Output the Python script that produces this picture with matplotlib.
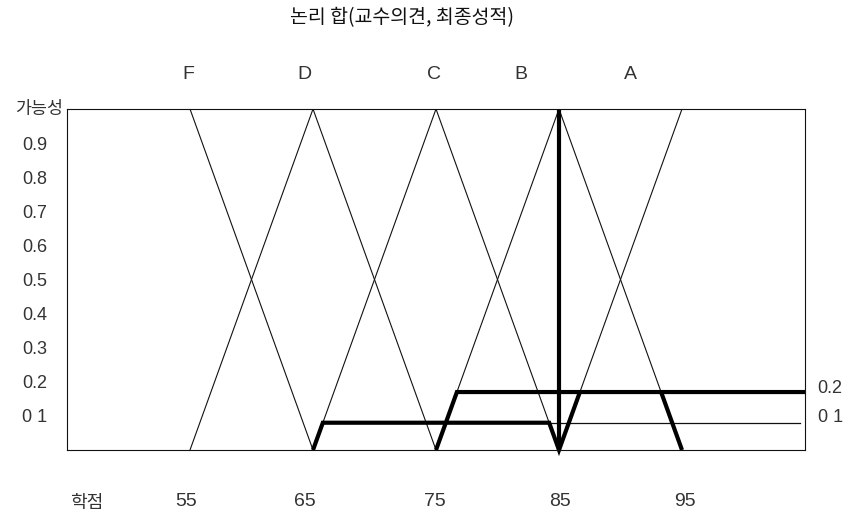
import numpy as np
import matplotlib.pyplot as plt

plt.rcParams['font.family'] = ['Liberation Sans', 'Noto Sans CJK KR', 'DejaVu Sans']

# ---------------------------------------------------------------------------
# Data
# ---------------------------------------------------------------------------

title = "논리 합(교수의견, 최종성적)"

# membership functions (score -> possibility)
grades = ["F", "D", "C", "B", "A"]
grade_x = [[45, 55, 65], [55, 65, 75], [65, 75, 85], [75, 85, 95], [85, 95, 105]]
grade_y = [[1, 1, 0], [0, 1, 0], [0, 1, 0], [0, 1, 0], [0, 1, 1]]
grade_label_x = [54.9, 64.3, 74.8, 81.9, 90.8]

# clipped levels
level_low = 0.08
level_high = 0.17
level_labels = ["0.2", "0 1"]
level_label_y = [0.18, 0.094]

# thick result curves
res1_x = [65.0, 65.8, 84.2, 85.0, 86.7]
res1_y = [0.0, level_low, level_low, 0.0, level_high]
res2_x = [75.0, 76.7, 105.0]
res2_y = [0.0, level_high, level_high]
res3_x = [93.3, 95.0]
res3_y = [level_high, 0.0]
peak_x = [85.0, 85.0]
peak_y = [0.0, 1.0]
thin_x = [84.2, 104.6]
thin_y = [level_low, level_low]

ytick_vals = [0.1, 0.2, 0.3, 0.4, 0.5, 0.6, 0.7, 0.8, 0.9]
ytick_labels = ["0 1", "0.2", "0.3", "0.4", "0.5", "0.6", "0.7", "0.8", "0.9"]
xtick_vals = [54.7, 64.3, 74.9, 85.1, 95.2]
xtick_labels = ["55", "65", "75", "85", "95"]


# ---------------------------------------------------------------------------
# Plot
# ---------------------------------------------------------------------------

fig = plt.figure(figsize=(8.55, 5.22), dpi=100)
ax = fig.add_axes([67 / 855, 72 / 522, 738 / 855, 341 / 522])

for gx, gy in zip(grade_x, grade_y):
    ax.plot(gx, gy, color="#111111", linewidth=0.8)

ax.plot(thin_x, thin_y, color="#111111", linewidth=0.9)
for rx, ry in [(res1_x, res1_y), (res2_x, res2_y), (res3_x, res3_y), (peak_x, peak_y)]:
    ax.plot(rx, ry, color="black", linewidth=3.0, solid_capstyle="butt",
            solid_joinstyle="miter", clip_on=False)

ax.set_xlim(45, 105)
ax.set_ylim(0, 1)

for sp in ax.spines.values():
    sp.set_linewidth(0.8)
    sp.set_color("#111111")

ax.set_yticks(ytick_vals, ytick_labels, fontsize=13, color="#333333")
ax.set_xticks(xtick_vals, xtick_labels, fontsize=14, color="#333333")
ax.tick_params(axis="y", length=0, pad=14.4)
ax.tick_params(axis="x", length=0, pad=31)

# axis captions
ax.text(-0.005, 1.0, "가능성", transform=ax.transAxes, ha="right", va="center",
        fontsize=12.5, family=["Noto Sans CJK KR"], color="#333333")
fig.text(87 / 855, 1 - 503 / 522, "학점", ha="center", va="center",
         fontsize=13, family=["Noto Sans CJK KR"], color="#333333")

# grade names above the box
for name, gx in zip(grades, grade_label_x):
    ax.text(gx, 1.10, name, ha="center", va="center", fontsize=14,
            color="#333333", clip_on=False)

# level labels at right
for lab, ly in zip(level_labels, level_label_y):
    ax.text(1.017, ly, lab, transform=ax.get_yaxis_transform(), ha="left",
            va="center", fontsize=13, color="#333333")

fig.text(402 / 855, 1 - 18 / 522, title, ha="center", va="center",
         fontsize=14, family=["Noto Sans CJK KR"], color="#111111")

fig.savefig("out.png", dpi=100)
